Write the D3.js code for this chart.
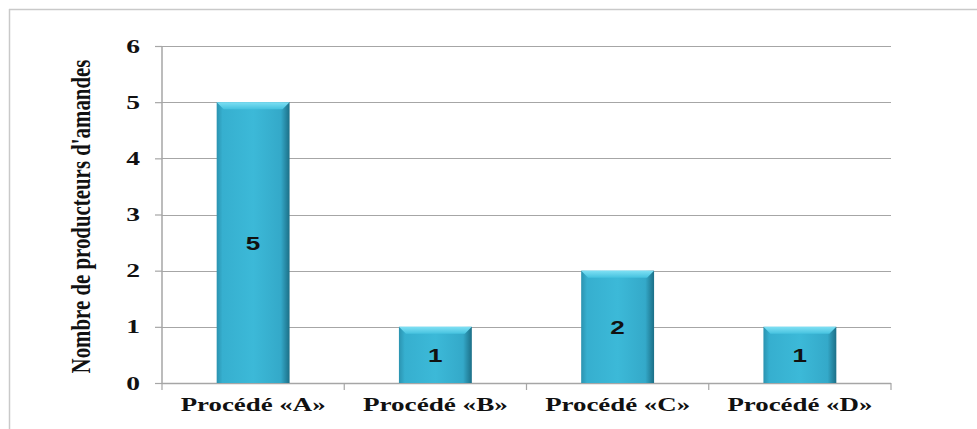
<!DOCTYPE html>
<html>
<head>
<meta charset="utf-8">
<script src="https://cdn.jsdelivr.net/npm/d3@7"></script>
<style>
  html, body { margin: 0; padding: 0; background: #fff; }
  svg { display: block; }
</style>
</head>
<body>
<svg id="chart" width="977" height="429"></svg>
<script>
// Number of almond producers per processing method
const categories = ["Procédé «A»", "Procédé «B»", "Procédé «C»", "Procédé «D»"];
const values = [5, 1, 2, 1];
const yTicks = [0, 1, 2, 3, 4, 5, 6];
const yTitle = "Nombre de producteurs d'amandes";

const W = 977, H = 429;
const margin = { left: 162, right: 86, top: 46, bottom: 46 };
const svg = d3.select("#chart");
const SERIF = "'Liberation Serif', 'Times New Roman', serif";
const SANS = "'Liberation Sans', Arial, sans-serif";
const WIDEN = 1.45; // horizontal stretch of the lettering

// frame lines (top and left)
svg.append("line").attr("x1", 9).attr("x2", W).attr("y1", 9.5).attr("y2", 9.5)
  .attr("stroke", "#c9c9c9").attr("stroke-width", 1.5);
svg.append("line").attr("x1", 9.5).attr("x2", 9.5).attr("y1", 9).attr("y2", H)
  .attr("stroke", "#c9c9c9").attr("stroke-width", 1.5);

const x = d3.scaleBand().domain(categories)
  .range([margin.left, W - margin.right]).paddingInner(0.6).paddingOuter(0.3);
const y = d3.scaleLinear().domain([0, 6]).range([H - margin.bottom, margin.top]);

// gradients for the bevelled bars
const defs = svg.append("defs");
const g = defs.append("linearGradient").attr("id", "barGrad")
  .attr("x1", "0").attr("x2", "1").attr("y1", "0").attr("y2", "0");
g.append("stop").attr("offset", "0").attr("stop-color", "#2b93b0");
g.append("stop").attr("offset", "0.08").attr("stop-color", "#36afcf");
g.append("stop").attr("offset", "0.5").attr("stop-color", "#3cb9d8");
g.append("stop").attr("offset", "0.88").attr("stop-color", "#34a9c9");
g.append("stop").attr("offset", "1").attr("stop-color", "#1c6f87");
const gt = defs.append("linearGradient").attr("id", "topGrad")
  .attr("x1", "0").attr("x2", "0").attr("y1", "0").attr("y2", "1");
gt.append("stop").attr("offset", "0").attr("stop-color", "#7fe0f4");
gt.append("stop").attr("offset", "1").attr("stop-color", "#45c2df");

// horizontal gridlines
svg.append("g").selectAll("line").data(yTicks.filter(d => d > 0)).join("line")
  .attr("x1", margin.left).attr("x2", W - margin.right)
  .attr("y1", d => Math.round(y(d)) + 0.5).attr("y2", d => Math.round(y(d)) + 0.5)
  .attr("stroke", "#a6a6a6").attr("stroke-width", 1.2);

// y axis
const yAxis = svg.append("g").attr("transform", `translate(${margin.left},0)`)
  .call(d3.axisLeft(y).tickValues(yTicks).tickSize(7).tickPadding(9).tickFormat(d3.format("d")));
yAxis.select(".domain").attr("stroke", "#a6a6a6").attr("stroke-width", 1.5).attr("d", `M0,${y(0)}V${y(6)}`);
yAxis.selectAll(".tick line").attr("stroke", "#a6a6a6").attr("stroke-width", 1.2);
yAxis.selectAll(".tick text")
  .attr("x", -22 / WIDEN)
  .attr("transform", `scale(${WIDEN},1)`)
  .attr("font-family", SERIF)
  .attr("font-weight", "bold").attr("font-size", 19).attr("fill", "#111");

// x axis with ticks at category boundaries
const xAxisG = svg.append("g").attr("transform", `translate(0,${y(0)})`);
xAxisG.append("line").attr("x1", margin.left).attr("x2", W - margin.right)
  .attr("y1", 0.5).attr("y2", 0.5).attr("stroke", "#a6a6a6").attr("stroke-width", 1.5);
const bounds = d3.range(categories.length + 1).map(i => margin.left + i * (W - margin.right - margin.left) / categories.length);
xAxisG.selectAll("line.tk").data(bounds).join("line").attr("class", "tk")
  .attr("x1", d => d).attr("x2", d => d).attr("y1", 0).attr("y2", 7)
  .attr("stroke", "#a6a6a6").attr("stroke-width", 1.2);
xAxisG.selectAll("text").data(categories).join("text")
  .attr("x", d => x(d) + x.bandwidth() / 2).attr("y", 28)
  .attr("text-anchor", "middle")
  .attr("font-family", SERIF)
  .attr("font-weight", "bold").attr("font-size", 18)
  .attr("textLength", 145).attr("lengthAdjust", "spacingAndGlyphs")
  .attr("fill", "#111").text(d => d);

// bars
const bars = svg.append("g").selectAll("g").data(categories.map((c, i) => ({ c, v: values[i] }))).join("g");
bars.append("rect")
  .attr("x", d => x(d.c)).attr("y", d => y(d.v))
  .attr("width", x.bandwidth()).attr("height", d => y(0) - y(d.v))
  .attr("fill", "url(#barGrad)");
// top bevel
bars.append("path")
  .attr("d", d => {
    const x0 = x(d.c), x1 = x0 + x.bandwidth(), t = y(d.v), b = 7;
    return `M${x0},${t}H${x1}L${x1 - b},${t + b}H${x0 + b}Z`;
  })
  .attr("fill", "url(#topGrad)");
// value labels
bars.append("text")
  .attr("transform", d => `translate(${x(d.c) + x.bandwidth() / 2},${(y(d.v) + y(0)) / 2 + 1}) scale(${WIDEN},1)`)
  .attr("dy", "0.36em").attr("text-anchor", "middle")
  .attr("font-family", SANS)
  .attr("font-weight", "bold").attr("font-size", 18).attr("fill", "#111")
  .text(d => d.v);

// y axis title: tall, condensed lettering sized to span the plot height
const title = svg.append("text")
  .attr("text-anchor", "middle")
  .attr("font-family", SERIF)
  .attr("font-weight", "bold").attr("font-size", 19)
  .attr("fill", "#111").text(yTitle);
const natural = title.node().getComputedTextLength();
const sx = 314 / natural;
title.attr("transform",
  `translate(90,${(y(0) + y(6)) / 2 + 2}) rotate(-90) scale(${sx},1.4)`);
</script>
</body>
</html>
